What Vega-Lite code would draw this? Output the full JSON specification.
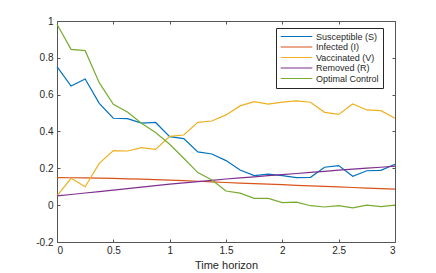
{
  "$schema": "https://vega.github.io/schema/vega-lite/v6.json",
  "width": 338,
  "height": 221,
  "autosize": {"type": "none"},
  "padding": {"left": 57, "top": 21, "right": 41, "bottom": 31},
  "config": {
    "font": "Liberation Sans",
    "view": {"stroke": null},
    "axis": {
      "grid": false,
      "domainColor": "#555555",
      "domainWidth": 1,
      "tickColor": "#555555",
      "tickWidth": 1,
      "tickSize": -3,
      "labelFont": "Liberation Sans",
      "labelFontSize": 10,
      "labelColor": "#262626",
      "titleFont": "Liberation Sans",
      "titleFontSize": 11,
      "titleFontWeight": "normal",
      "titleColor": "#262626"
    },
    "legend": {
      "labelFont": "Liberation Sans",
      "labelFontSize": 9,
      "labelColor": "#262626"
    }
  },
  "data": {
    "values": [
      {"t": 0, "Susceptible (S)": 0.752, "Infected (I)": 0.150, "Vaccinated (V)": 0.050, "Removed (R)": 0.050, "Optimal Control": 0.982},
      {"t": 0.125, "Susceptible (S)": 0.647, "Infected (I)": 0.149, "Vaccinated (V)": 0.146, "Removed (R)": 0.058, "Optimal Control": 0.846},
      {"t": 0.25, "Susceptible (S)": 0.685, "Infected (I)": 0.148, "Vaccinated (V)": 0.100, "Removed (R)": 0.066, "Optimal Control": 0.839},
      {"t": 0.375, "Susceptible (S)": 0.553, "Infected (I)": 0.147, "Vaccinated (V)": 0.227, "Removed (R)": 0.074, "Optimal Control": 0.665},
      {"t": 0.5, "Susceptible (S)": 0.472, "Infected (I)": 0.145, "Vaccinated (V)": 0.296, "Removed (R)": 0.082, "Optimal Control": 0.548},
      {"t": 0.625, "Susceptible (S)": 0.470, "Infected (I)": 0.143, "Vaccinated (V)": 0.294, "Removed (R)": 0.090, "Optimal Control": 0.506},
      {"t": 0.75, "Susceptible (S)": 0.446, "Infected (I)": 0.141, "Vaccinated (V)": 0.312, "Removed (R)": 0.098, "Optimal Control": 0.445},
      {"t": 0.875, "Susceptible (S)": 0.449, "Infected (I)": 0.139, "Vaccinated (V)": 0.303, "Removed (R)": 0.106, "Optimal Control": 0.394},
      {"t": 1.0, "Susceptible (S)": 0.372, "Infected (I)": 0.136, "Vaccinated (V)": 0.374, "Removed (R)": 0.114, "Optimal Control": 0.331},
      {"t": 1.125, "Susceptible (S)": 0.361, "Infected (I)": 0.133, "Vaccinated (V)": 0.381, "Removed (R)": 0.121, "Optimal Control": 0.255},
      {"t": 1.25, "Susceptible (S)": 0.289, "Infected (I)": 0.130, "Vaccinated (V)": 0.450, "Removed (R)": 0.128, "Optimal Control": 0.177},
      {"t": 1.375, "Susceptible (S)": 0.278, "Infected (I)": 0.127, "Vaccinated (V)": 0.457, "Removed (R)": 0.135, "Optimal Control": 0.137},
      {"t": 1.5, "Susceptible (S)": 0.242, "Infected (I)": 0.123, "Vaccinated (V)": 0.490, "Removed (R)": 0.142, "Optimal Control": 0.077},
      {"t": 1.625, "Susceptible (S)": 0.191, "Infected (I)": 0.120, "Vaccinated (V)": 0.539, "Removed (R)": 0.148, "Optimal Control": 0.065},
      {"t": 1.75, "Susceptible (S)": 0.161, "Infected (I)": 0.117, "Vaccinated (V)": 0.562, "Removed (R)": 0.154, "Optimal Control": 0.037},
      {"t": 1.875, "Susceptible (S)": 0.169, "Infected (I)": 0.114, "Vaccinated (V)": 0.549, "Removed (R)": 0.160, "Optimal Control": 0.037},
      {"t": 2.0, "Susceptible (S)": 0.160, "Infected (I)": 0.111, "Vaccinated (V)": 0.559, "Removed (R)": 0.166, "Optimal Control": 0.014},
      {"t": 2.125, "Susceptible (S)": 0.150, "Infected (I)": 0.108, "Vaccinated (V)": 0.566, "Removed (R)": 0.172, "Optimal Control": 0.016},
      {"t": 2.25, "Susceptible (S)": 0.151, "Infected (I)": 0.105, "Vaccinated (V)": 0.559, "Removed (R)": 0.178, "Optimal Control": -0.003},
      {"t": 2.375, "Susceptible (S)": 0.206, "Infected (I)": 0.102, "Vaccinated (V)": 0.504, "Removed (R)": 0.184, "Optimal Control": -0.010},
      {"t": 2.5, "Susceptible (S)": 0.215, "Infected (I)": 0.099, "Vaccinated (V)": 0.493, "Removed (R)": 0.190, "Optimal Control": -0.003},
      {"t": 2.625, "Susceptible (S)": 0.157, "Infected (I)": 0.096, "Vaccinated (V)": 0.549, "Removed (R)": 0.196, "Optimal Control": -0.015},
      {"t": 2.75, "Susceptible (S)": 0.187, "Infected (I)": 0.093, "Vaccinated (V)": 0.517, "Removed (R)": 0.201, "Optimal Control": 0.000},
      {"t": 2.875, "Susceptible (S)": 0.189, "Infected (I)": 0.090, "Vaccinated (V)": 0.513, "Removed (R)": 0.206, "Optimal Control": -0.008},
      {"t": 3.0, "Susceptible (S)": 0.222, "Infected (I)": 0.087, "Vaccinated (V)": 0.472, "Removed (R)": 0.212, "Optimal Control": 0.000}
    ]
  },
  "transform": [
    {"fold": ["Susceptible (S)", "Infected (I)", "Vaccinated (V)", "Removed (R)", "Optimal Control"], "as": ["series", "value"]}
  ],
  "layer": [
    {
      "mark": {"type": "line", "strokeWidth": 1.2},
      "encoding": {
        "x": {
          "field": "t", "type": "quantitative",
          "scale": {"domain": [0, 3], "nice": false, "zero": false},
          "axis": {"orient": "bottom", "title": "Time horizon", "values": [0, 0.5, 1, 1.5, 2, 2.5, 3], "labelPadding": 6, "titlePadding": 4,
                   "labelExpr": "format(datum.value, '~g')"}
        },
        "y": {
          "field": "value", "type": "quantitative",
          "scale": {"domain": [-0.2, 1], "nice": false, "zero": false},
          "axis": {"orient": "left", "title": null, "values": [-0.2, 0, 0.2, 0.4, 0.6, 0.8, 1], "labelPadding": 7,
                   "labelExpr": "datum.value < 0 ? '-' + format(-datum.value, '~g') : format(datum.value, '~g')"}
        },
        "color": {
          "field": "series", "type": "nominal",
          "scale": {
            "domain": ["Susceptible (S)", "Infected (I)", "Vaccinated (V)", "Removed (R)", "Optimal Control"],
            "range": ["#0072BD", "#D95319", "#EDB120", "#7E2F8E", "#77AC30"]
          },
          "legend": {
            "title": null,
            "orient": "none",
            "legendX": 219,
            "legendY": 7,
            "symbolType": "stroke",
            "symbolSize": 1000,
            "symbolStrokeWidth": 1.2,
            "clipHeight": 9,
            "labelOffset": 3,
            "padding": 4,
            "rowPadding": 0.5,
            "strokeColor": "#262626",
            "fillColor": "white"
          }
        }
      }
    },
    {
      "mark": {"type": "line", "strokeOpacity": 0},
      "encoding": {
        "x": {
          "field": "t", "type": "quantitative",
          "axis": {"orient": "top", "title": null, "labels": false, "values": [0, 0.5, 1, 1.5, 2, 2.5, 3]}
        },
        "y": {
          "field": "value", "type": "quantitative",
          "axis": {"orient": "right", "title": null, "labels": false, "values": [-0.2, 0, 0.2, 0.4, 0.6, 0.8, 1]}
        },
        "detail": {"field": "series"}
      }
    }
  ],
  "resolve": {"axis": {"x": "independent", "y": "independent"}}
}
